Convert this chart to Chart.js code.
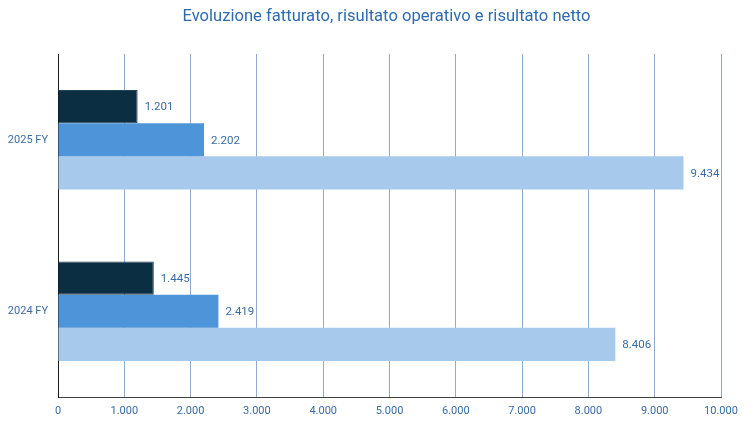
<!DOCTYPE html>
<html><head><meta charset="utf-8">
<script src="https://cdn.jsdelivr.net/npm/chart.js@4"></script>
<style>html,body{margin:0;padding:0;background:#fff}#w{width:753px;height:423px}</style>
</head><body><div id="w"><canvas id="c" width="753" height="423"></canvas></div>
<script>
const categories = ['2025 FY', '2024 FY'];
const seriesNames = ['Risultato netto', 'Risultato operativo', 'Fatturato'];
const risultatoNetto = [1201, 1445];
const risultatoOperativo = [2202, 2419];
const fatturato = [9434, 8406];
const xTicks = [0, 1000, 2000, 3000, 4000, 5000, 6000, 7000, 8000, 9000, 10000];
const chartTitle = 'Evoluzione fatturato, risultato operativo e risultato netto';

const fmt = n => String(n).replace(/\B(?=(\d{3})+(?!\d))/g, '.');
const textColor = '#3A6BA3';

const labelPlugin = {
  id: 'barLabels',
  afterDatasetsDraw(chart) {
    const ctx = chart.ctx;
    ctx.save();
    ctx.font = '11.5px Roboto';
    ctx.fillStyle = textColor;
    ctx.textAlign = 'left';
    ctx.textBaseline = 'middle';
    chart.data.datasets.forEach((ds, i) => {
      chart.getDatasetMeta(i).data.forEach((bar, j) => {
        ctx.fillText(fmt(ds.data[j]), bar.x + 7, bar.y + 1);
      });
    });
    ctx.restore();
  }
};

const titlePlugin = {
  id: 'centeredTitle',
  afterDraw(chart) {
    const ctx = chart.ctx, a = chart.chartArea;
    ctx.save();
    ctx.font = '16.6px Roboto';
    ctx.fillStyle = '#2E6BAF';
    ctx.textAlign = 'center';
    ctx.textBaseline = 'middle';
    ctx.fillText(chartTitle, (a.left + a.right) / 2 - 3, 17);
    ctx.restore();
  }
};

new Chart(document.getElementById('c'), {
  type: 'bar',
  data: {
    labels: categories,
    datasets: [
      { label: seriesNames[0], data: risultatoNetto, backgroundColor: '#0B2E42', borderColor: '#24465a', borderWidth: 1 },
      { label: seriesNames[1], data: risultatoOperativo, backgroundColor: '#4E94D8', borderWidth: 0 },
      { label: seriesNames[2], data: fatturato, backgroundColor: '#A6C9EC', borderWidth: 0 }
    ]
  },
  options: {
    indexAxis: 'y',
    responsive: false,
    animation: false,
    devicePixelRatio: 1,
    layout: { padding: { left: 0, right: 32, top: 54, bottom: 0 } },
    datasets: { bar: { categoryPercentage: 0.58, barPercentage: 1.0 } },
    plugins: {
      legend: { display: false },
      tooltip: { enabled: false },
      title: { display: false }
    },
    scales: {
      x: {
        min: 0, max: 10000,
        afterBuildTicks: s => { s.ticks = xTicks.map(v => ({ value: v })); },
        afterFit: s => { s.height = 26; },
        ticks: { color: textColor, font: { family: 'Roboto', size: 11 }, padding: 8, callback: v => fmt(v), maxRotation: 0 },
        grid: { color: '#8FAACA', lineWidth: 1, drawTicks: false },
        border: { color: '#404040', width: 1 }
      },
      y: {
        afterFit: s => { s.width = 58; },
        ticks: { color: textColor, font: { family: 'Roboto', size: 11 }, padding: 10 },
        grid: { display: false, drawTicks: false },
        border: { color: '#1a1a1a', width: 1 }
      }
    }
  },
  plugins: [labelPlugin, titlePlugin]
});
</script></body></html>
